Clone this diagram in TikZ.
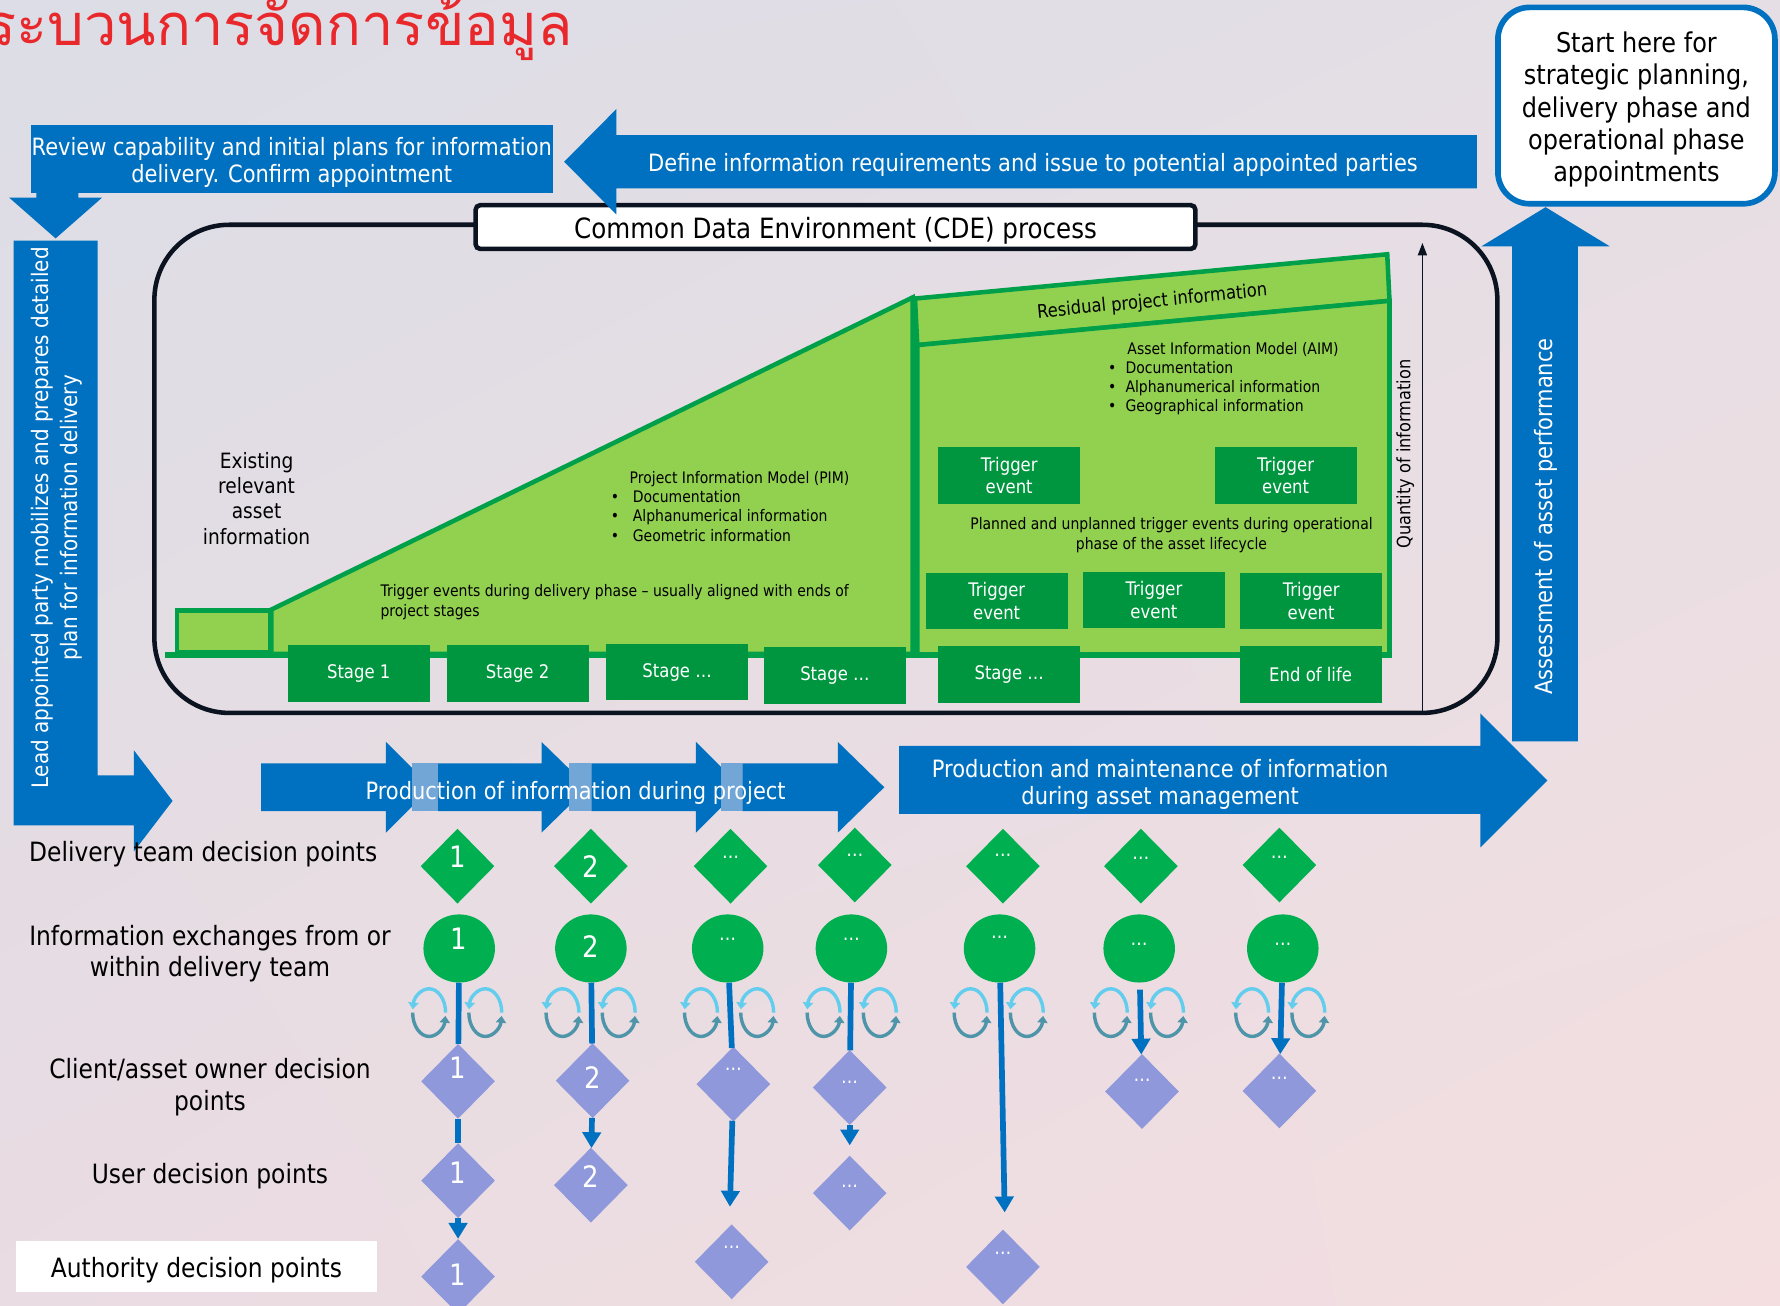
\documentclass[tikz,border=0pt]{standalone}
\usepackage{fontspec}
\setmainfont[FakeStretch=0.88]{DejaVu Sans}
\newfontfamily\thaifont[Script=Thai]{Loma}
\usetikzlibrary{shapes.geometric,arrows.meta,positioning,shadings}

\definecolor{bgTL}{HTML}{DCDDE6}
\definecolor{bgTR}{HTML}{E5DEE5}
\definecolor{bgBL}{HTML}{E9DCE2}
\definecolor{bgBR}{HTML}{F4DEE0}
\definecolor{isoBlue}{HTML}{0070C0}
\definecolor{isoPale}{HTML}{72A6D6}
\definecolor{isoRed}{HTML}{E8282B}
\definecolor{cdeInk}{HTML}{0B1220}
\definecolor{pimFill}{HTML}{92D050}
\definecolor{pimLine}{HTML}{00A04A}
\definecolor{boxGreen}{HTML}{009640}
\definecolor{decGreen}{HTML}{00B050}
\definecolor{decLilac}{HTML}{8E98DA}
\definecolor{loopCyan}{HTML}{63CDEE}
\definecolor{loopTeal}{HTML}{4E95AA}

\begin{document}
\begin{tikzpicture}[x=1pt,y=-1pt,
  bluetext/.style={text=white,align=center,font=\fontsize{21}{24.5}\selectfont},
  greenbox/.style={fill=boxGreen,text=white,align=center,inner sep=0pt,
    minimum width=125,minimum height=50,font=\fontsize{16.5}{20}\selectfont},
  pimshape/.style={draw=pimLine,fill=pimFill,line width=4},
  smalltext/.style={align=left,inner sep=0pt,font=\fontsize{14}{17}\selectfont},
  rowlabel/.style={align=center,inner sep=0pt,font=\fontsize{23.4}{28}\selectfont},
  teamdia/.style={diamond,fill=decGreen,inner sep=0pt,minimum width=65,minimum height=66},
  clientdia/.style={diamond,fill=decLilac,inner sep=0pt,minimum width=65,minimum height=66},
  exch/.style={ellipse,fill=decGreen,inner sep=0pt,minimum width=63,minimum height=60},
  numlbl/.style={text=white,font=\fontsize{26}{26}\selectfont},
  dotlbl/.style={text=white,font=\fontsize{17}{17}\selectfont},
  flow/.style={isoBlue,line width=5},
  flowto/.style={flow,-{Triangle[length=14pt,width=16pt]}},
]

% background
\shade[upper left=bgTL,upper right=bgTR,lower left=bgBL,lower right=bgBR] (0,0) rectangle (1568,1150);
\useasboundingbox (0,0) rectangle (1568,1150);

% title
\node[anchor=base east,inner sep=0pt,text=isoRed,font=\thaifont\fontsize{51}{53}\selectfont] (title) at (505,40) {กระบวนการจัดการข้อมูล};

% review
\node[fill=isoBlue,minimum width=460,minimum height=60,inner sep=0pt] (review) at (257,140) {};
\node[bluetext] (reviewtxt) at (257,143) {Review capability and initial plans for information\\delivery. Confirm appointment};
\fill[isoBlue] (32,169) -- (69,169) -- (69,174) -- (90,174) -- (49,210) -- (8,174) -- (32,174) -- cycle;

% lead appointed party
\fill[isoBlue] (12,212) -- (86,212) -- (86,683) -- (118,683) -- (118,661) -- (152,705.5) -- (118,750) -- (118,727) -- (12,727) -- cycle;
\node[rotate=90,bluetext,font=\fontsize{20}{25}\selectfont] (lead) at (50,456) {Lead appointed party mobilizes and prepares detailed\\plan for information delivery};

% start here
\node[draw=isoBlue,line width=5,fill=white,rounded corners=28,minimum width=244,minimum height=173] (start) at (1441.5,93) {};
\node[align=center,font=\fontsize{24}{28.3}\selectfont] (starttxt) at (1441.5,96.5) {Start here for\\strategic planning,\\delivery phase and\\operational phase\\appointments};

% assessment
\fill[isoBlue] (1332,653) -- (1332,217) -- (1305,217) -- (1361.5,182.5) -- (1418,217) -- (1390,217) -- (1390,653) -- cycle;
\node[rotate=90,bluetext] (assess) at (1362,455) {Assessment of asset performance};

% CDE
\draw[cdeInk,line width=4,rounded corners=66] (136,198) rectangle (1319,628);

% information models
\draw[pimshape] (156,538) rectangle (238,575);
\draw[pimshape] (239,537) -- (804,262) -- (804,576) -- (239,576) -- cycle;
\draw[pimshape] (806,263) -- (1222,224) -- (1224,265) -- (808,304) -- cycle;
\draw[pimshape] (808,304) -- (1224,265) -- (1224,577) -- (808,577) -- cycle;
\draw[pimLine,line width=5] (145,577) -- (1226,577);

\node[align=center,inner sep=0pt,font=\fontsize{18.6}{22.4}\selectfont] (existing) at (226,439) {Existing\\relevant\\asset\\information};
\node[smalltext,anchor=west] (pim) at (538,446) {\hspace*{16.5pt}Project Information Model (PIM)\\•\hspace{12pt}Documentation\\•\hspace{12pt}Alphanumerical information\\•\hspace{12pt}Geometric information};
\node[smalltext,anchor=west] (trigdel) at (335,530.5) {Trigger events during delivery phase – usually aligned with ends of\\project stages};
\node[rotate=5.5,font=\fontsize{16.4}{18}\selectfont] (residual) at (1015,266) {Residual project information};
\node[smalltext,anchor=west] (aim) at (976,333.5) {\hspace*{17pt}Asset Information Model (AIM)\\•\hspace{8pt}Documentation\\•\hspace{8pt}Alphanumerical information\\•\hspace{8pt}Geographical information};
\node[smalltext,align=center] (trigop) at (1032,471.5) {Planned and unplanned trigger events during operational\\phase of the asset lifecycle};

% trigger events
\node[greenbox] (trigA) at (889,419) {Trigger\\event};
\node[greenbox] (trigB) at (1132.5,419) {Trigger\\event};
\node[greenbox] (trigC) at (878,529.5) {Trigger\\event};
\node[greenbox] (trigD) at (1016.5,528.5) {Trigger\\event};
\node[greenbox] (trigE) at (1155,529.5) {Trigger\\event};

% stages
\node[greenbox] (stage1) at (316,593) {Stage 1};
\node[greenbox] (stage2) at (456,593) {Stage 2};
\node[greenbox] (stage3) at (596.5,592) {Stage …};
\node[greenbox] (stage4) at (735.5,595) {Stage …};
\node[greenbox] (stage5) at (889,594) {Stage …};
\node[greenbox] (endlife) at (1154.5,594) {End of life};

% CDE title
\node[draw=cdeInk,line width=4,fill=white,rounded corners=4,minimum width=634,minimum height=38.5,inner sep=0pt] (cde) at (736,200) {};
\node[font=\fontsize{24.6}{28}\selectfont] (cdetxt) at (736,203) {Common Data Environment (CDE) process};

% define requirements
\fill[isoBlue] (1301,119) -- (543,119) -- (543,96) -- (497,142.5) -- (543,189) -- (543,166) -- (1301,166) -- cycle;
\node[bluetext] (define) at (910,145.5) {Define information requirements and issue to potential appointed parties};

% quantity
\coordinate (qbot) at (1253,627);
\coordinate (qtop) at (1253,214);
\draw[cdeInk,line width=1.5,-{Triangle[length=11pt,width=8pt]}] (qbot) -- (qtop);
\node[rotate=90,font=\fontsize{16.2}{19}\selectfont] (qty) at (1238,400) {Quantity of information};

% production during project
\foreach \xa/\xb/\xc in {230/340/380,386/477/518,521/613/653,654/738/779}
  \fill[isoBlue] (\xa,672.5) -- (\xb,672.5) -- (\xb,653.5) -- (\xc,693.5) -- (\xb,733.5) -- (\xb,714.5) -- (\xa,714.5) -- cycle;
\foreach \xa/\xb in {363/386,501/521,635/654}
  \fill[isoPale] (\xa,672.5) rectangle (\xb,714.5);
\node[bluetext] (prodproj) at (507,698.5) {Production of information during project};

% production during asset management
\fill[isoBlue] (792,657) -- (1304,657) -- (1304,628.5) -- (1363,687.5) -- (1304,746.5) -- (1304,717) -- (792,717) -- cycle;
\node[bluetext] (prodasset) at (1022,691) {Production and maintenance of information\\during asset management};

% row labels
\node[rowlabel] (lbldel) at (179,752) {Delivery team decision points};
\node[rowlabel] (lblinfo) at (185,840) {Information exchanges from or\\within delivery team};
\node[rowlabel] (lblclient) at (185,958) {Client/asset owner decision\\points};
\node[rowlabel] (lbluser) at (185,1036) {User decision points};
\node[fill=white,minimum width=318,minimum height=45] (lblauth) at (173,1116) {};
\node[rowlabel] (lblauthtxt) at (173,1119) {Authority decision points};

% exchange loops
\foreach \cx in {403.5,521,643,751,880.5,1004,1128.5}
  \foreach \dx in {-25.5,24}{
    \draw[loopCyan,line width=3,-{Triangle[length=6pt,width=9pt]}] (\cx+\dx+14.5,892) arc[start angle=0,end angle=172,x radius=14.5pt,y radius=21pt];
    \draw[loopTeal,line width=3,-{Triangle[length=6pt,width=9pt]}] (\cx+\dx-14.5,892) arc[start angle=180,end angle=352,x radius=14.5pt,y radius=21pt];
  }

% delivery team decision points
\node[teamdia,label={[numlbl,yshift=8pt]center:1}] (g1) at (403,763) {};
\node[teamdia,label={[numlbl]center:2}] (g2) at (520.5,763) {};
\node[teamdia,label={[dotlbl,yshift=8pt]center:…}] (g3) at (643.5,763) {};
\node[teamdia,label={[dotlbl,yshift=9pt]center:…}] (g4) at (753,762) {};
\node[teamdia,label={[dotlbl,yshift=10pt]center:…}] (g5) at (883.5,763) {};
\node[teamdia,label={[dotlbl,yshift=7pt]center:…}] (g6) at (1005,763) {};
\node[teamdia,label={[dotlbl,yshift=7pt]center:…}] (g7) at (1127,762) {};

% information exchanges
\node[exch,label={[numlbl,yshift=8.5pt]center:1}] (c1) at (404.5,835.5) {};
\node[exch,label={[numlbl,yshift=1.5pt]center:2}] (c2) at (520.5,835.5) {};
\node[exch,label={[dotlbl,yshift=8.5pt]center:…}] (c3) at (641,835.5) {};
\node[exch,label={[dotlbl,yshift=8.5pt]center:…}] (c4) at (750,835.5) {};
\node[exch,label={[dotlbl,yshift=9.5pt]center:…}] (c5) at (880.5,835.5) {};
\node[exch,label={[dotlbl,yshift=3.5pt]center:…}] (c6) at (1003.5,835.5) {};
\node[exch,label={[dotlbl,yshift=4pt]center:…}] (c7) at (1130,835.5) {};

% client decision points
\node[clientdia,label={[numlbl,yshift=12pt]center:1}] (a1) at (403.5,952.5) {};
\node[clientdia,label={[numlbl,yshift=3pt]center:2}] (a2) at (522,952) {};
\node[clientdia,label={[dotlbl,yshift=13.5pt]center:…}] (a3) at (646,955) {};
\node[clientdia,label={[dotlbl,yshift=5pt]center:…}] (a4) at (748.5,958) {};
\node[clientdia,label={[dotlbl,yshift=10pt]center:…}] (a6) at (1006,961.5) {};
\node[clientdia,label={[dotlbl,yshift=11pt]center:…}] (a7) at (1127,961) {};

% user decision points
\node[clientdia,label={[numlbl,yshift=7pt]center:1}] (u1) at (403.5,1040) {};
\node[clientdia,label={[numlbl,yshift=7.5pt]center:2}] (u2) at (520.5,1044) {};
\node[clientdia,label={[dotlbl,yshift=6pt]center:…}] (u4) at (748.5,1051) {};

% authority decision points
\node[clientdia,label={[numlbl,yshift=2pt]center:1}] (t1) at (403.5,1124.5) {};
\node[clientdia,label={[dotlbl,yshift=13pt]center:…}] (t3) at (644.5,1111.5) {};
\node[clientdia,label={[dotlbl,yshift=12pt]center:…}] (t5) at (883.5,1116) {};

% flows
\draw[flow] (c1) -- (a1);
\draw[flow] (a1) -- (u1);
\draw[flowto] (u1) -- (t1);
\draw[flow] (c2) -- (a2);
\draw[flowto] (a2) -- (u2);
\coordinate (e3) at (643,1063);
\draw[flow] (c3) -- (a3);
\draw[flowto] (a3) -- (e3);
\coordinate (e4) at (748.5,1009);
\draw[flow] (c4) -- (a4);
\draw[flowto] (a4) -- (e4);
\coordinate (e5) at (885,1068);
\draw[flowto] (c5) -- (e5);
\draw[flowto,shorten <=6pt] (c6) -- (a6);
\draw[flowto] (c7) -- (a7);

\end{tikzpicture}
\end{document}
